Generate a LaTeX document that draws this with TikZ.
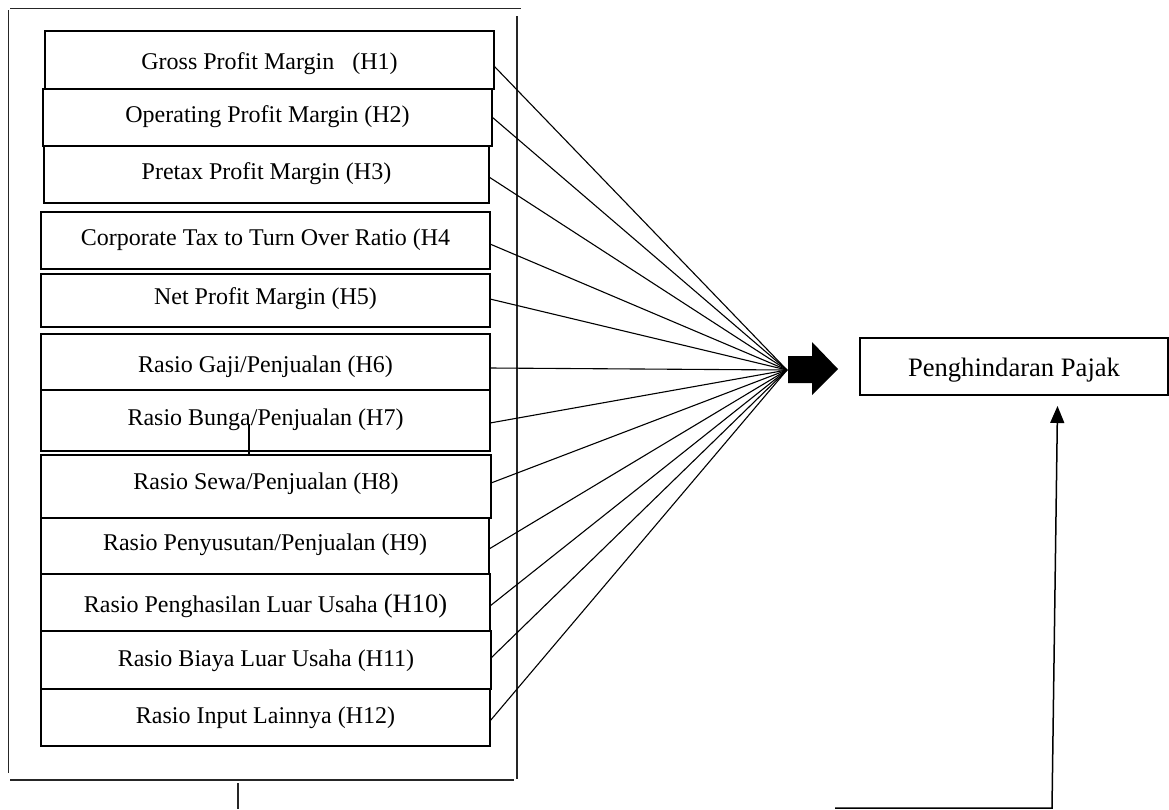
\documentclass[tikz,border=0pt]{standalone}
\usepackage{fontspec}
\setmainfont{Liberation Serif}
\usetikzlibrary{arrows.meta}
\begin{document}
\begin{tikzpicture}[x=1pt,y=-1pt,
  varbox/.style={draw=black,line width=1.6pt,rectangle,inner sep=0pt,outer sep=0pt},
  lbl/.style={anchor=base,inner sep=0pt,font=\fontsize{24}{28}\selectfont},
  frame/.style={line width=1.1pt,draw=black!85},
  conn/.style={line width=1.1pt}]
\useasboundingbox (0,0) rectangle (1169,809);
% outer frame
\draw[frame] (10,8.5) -- (521,8.5);
\draw[frame] (8.5,10) -- (8.5,773);
\draw[frame] (517,16) -- (517,779);
\draw[frame] (10,780) -- (514,780);
\draw[frame] (238,783) -- (238,809);
% boxes
\node[varbox,minimum width=449pt,minimum height=58pt] (b1) at (269.5,60) {};
\node[varbox,minimum width=449pt,minimum height=57pt] (b2) at (267.5,117.5) {};
\node[varbox,minimum width=445pt,minimum height=57pt] (b3) at (266.5,174.5) {};
\node[varbox,minimum width=449pt,minimum height=57pt] (b4) at (265.5,240.5) {};
\node[varbox,minimum width=449pt,minimum height=53pt] (b5) at (265.5,300.5) {};
\node[varbox,minimum width=449pt,minimum height=56pt] (b6) at (265.5,362) {};
\node[varbox,minimum width=449pt,minimum height=61pt] (b7) at (265.5,420.5) {};
\node[varbox,minimum width=450pt,minimum height=63pt] (b8) at (266,486.5) {};
\node[varbox,minimum width=448pt,minimum height=56pt] (b9) at (265,546) {};
\node[varbox,minimum width=449pt,minimum height=57pt] (b10) at (265.5,602.5) {};
\node[varbox,minimum width=450pt,minimum height=58pt] (b11) at (266,660) {};
\node[varbox,minimum width=449pt,minimum height=57pt] (b12) at (265.5,717.5) {};
% labels
\node[lbl] (t1) at (269.5,69) {Gross Profit Margin\ \ \ (H1)};
\node[lbl] (t2) at (267.5,122) {Operating Profit Margin (H2)};
\node[lbl] (t3) at (266.5,179) {Pretax Profit Margin (H3)};
\node[lbl] (t4) at (265.5,245) {Corporate Tax to Turn Over Ratio (H4};
\node[lbl] (t5) at (265.5,304) {Net Profit Margin (H5)};
\node[lbl] (t6) at (265.5,372) {Rasio Gaji/Penjualan (H6)};
\node[lbl] (t7) at (265.5,425) {Rasio Bunga/Penjualan (H7)};
\node[lbl] (t8) at (266,489) {Rasio Sewa/Penjualan (H8)};
\node[lbl] (t9) at (265,550) {Rasio Penyusutan/Penjualan (H9)};
\node[lbl] (t10) at (265.5,612) {Rasio Penghasilan Luar Usaha {\fontsize{26.5}{30}\selectfont(H10)}};
\node[lbl] (t11) at (266,666) {Rasio Biaya Luar Usaha (H11)};
\node[lbl] (t12) at (265.5,723) {Rasio Input Lainnya (H12)};
% small stray line in H7
\coordinate (s7) at (249,424);
\draw[line width=1.1pt] (s7) -- (b8.north -| s7);
% convergence point and block arrow
\coordinate (conv) at (787,370);
\fill (788,356) -- (812,356) -- (812,342) -- (838,369) -- (812,395) -- (812,383) -- (788,383) -- cycle;
% connectors
\draw[conn] (b1.east |- 0,66) -- (conv);
\draw[conn] (b2.east |- 0,117) -- (conv);
\draw[conn] (b3.east |- 0,177) -- (conv);
\draw[conn] (b4.east |- 0,244) -- (conv);
\draw[conn] (b5.east |- 0,299) -- (conv);
\draw[conn] (b6.east |- 0,368) -- (conv);
\draw[conn] (b7.east |- 0,423) -- (conv);
\draw[conn] (b8.east |- 0,483) -- (conv);
\draw[conn] (b9.east |- 0,549) -- (conv);
\draw[conn] (b10.east |- 0,606) -- (conv);
\draw[conn] (b11.east |- 0,658) -- (conv);
\draw[conn] (b12.east |- 0,721) -- (conv);
% dependent variable
\node[varbox,minimum width=308pt,minimum height=57pt] (pp) at (1014,366.5) {};
\node[lbl,font=\fontsize{26.6}{30}\selectfont] (tp) at (1014,376) {Penghindaran Pajak};
% feedback arrow
\coordinate (f1) at (835,808);
\coordinate (f2) at (1052,808);
\coordinate (f3) at (1057.5,406);
\draw[line width=1.5pt,-{Triangle[length=17pt,width=14pt]}] (f1) -- (f2) -- (f3);
\end{tikzpicture}
\end{document}
